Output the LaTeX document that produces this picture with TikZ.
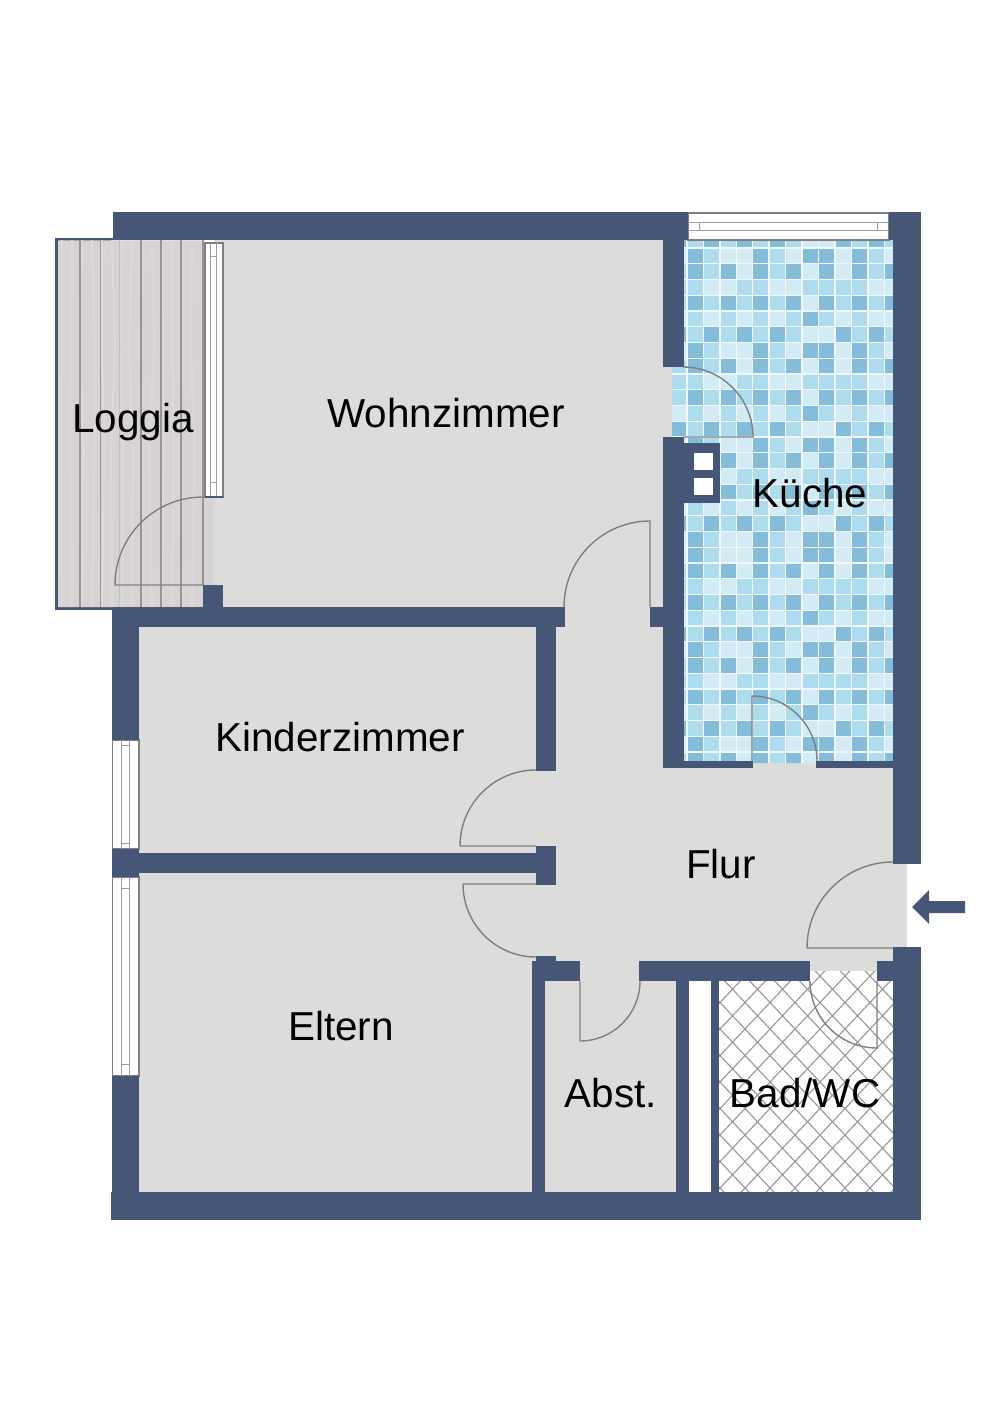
\documentclass[tikz,border=0pt]{standalone}
\usepackage{fontspec}
\setmainfont{Liberation Sans}
\usetikzlibrary{decorations.pathmorphing}
\definecolor{wallblue}{HTML}{465676}
\definecolor{floorgray}{HTML}{DCDCDB}
\definecolor{doorgray}{HTML}{7F7F7F}
\definecolor{woodbase}{HTML}{D8D3D3}
\definecolor{woodgrain}{HTML}{DDD9D9}
\definecolor{woodline}{HTML}{989494}
\definecolor{tiledark}{HTML}{85BCDA}
\definecolor{tilemed}{HTML}{AEDCEF}
\definecolor{tilelight}{HTML}{D2EBF5}
\definecolor{tilegap}{HTML}{F0F8FB}
% one row of the mosaic, column -1 to 12
\def\rowa{c,a,b,c,c,a,b,c,a,a,c,a,b,c}
\def\rowb{b,a,b,a,c,a,b,a,c,a,c,a,b,a}
\def\rowc{b,b,c,c,b,b,c,c,b,b,b,b,c,c}
\def\rowd{b,a,b,a,b,a,b,a,c,a,b,a,b,a}
\def\rowe{c,b,c,b,c,b,c,b,a,b,c,b,c,c}
\def\rowf{a,b,a,b,a,b,a,b,c,c,a,b,a,b}
\begin{document}
\begin{tikzpicture}[x=0.02cm,y=-0.02cm]
\tikzset{
  wall/.style={fill=wallblue},
  floorarea/.style={fill=floorgray},
  door/.style={draw=doorgray,line width=0.8pt},
  roomlabel/.style={anchor=base,inner sep=0pt,font=\fontsize{23}{26}\selectfont},
  frameline/.style={draw=doorgray,line width=0.9pt,fill=white},
  sashline/.style={draw=doorgray!75,line width=0.5pt},
  hatchline/.style={draw=doorgray!80,line width=0.65pt},
  tilea/.style={fill=tiledark},
  tileb/.style={fill=tilemed},
  tilec/.style={fill=tilelight}
}
\useasboundingbox[fill=white] (0,0) rectangle (1000,1415);
% floors
\fill[floorarea] (214,240) rectangle (672,627);
\fill[floorarea] (139,607) rectangle (893,1192);
\fill[floorarea] (893,864) rectangle (907,947);
\fill[white] (689,981) rectangle (711,1192);
% loggia
\fill[wall] (55,238) rectangle (113,610);
\fill[woodbase] (58,240.5) -- (203,240.5) -- (203,497) -- (214,497) -- (214,585) -- (203,585) -- (203,607) -- (58,607) -- cycle;
\pgfmathsetseed{11}
\begin{scope}
\clip (58,240.5) rectangle (203,607);
\foreach \gx in {62,72,...,200}
  \draw[woodgrain,line width=1.2pt,decorate,decoration={random steps,segment length=60pt,amplitude=2pt}] (\gx,240) -- (\gx,607);
\end{scope}
\foreach \lx/\ly in {80/607,100.7/607,141/607,161/607,181/607,203/585}
  \draw[woodline,line width=0.7pt] (\lx,240) -- (\lx,\ly);
\draw[woodline!60,line width=0.6pt] (119.3,240) -- (119.3,607);
% kitchen mosaic
\begin{scope}
\clip (684,240) -- (893,240) -- (893,763) -- (684,763) -- (684,437) -- (672,437) -- (672,367) -- (684,367) -- cycle;
\fill[tilegap] (670,230) rectangle (895,765);
\foreach \tilerow [count=\k from 0] in {\rowf,\rowa,\rowb,\rowc,\rowd,\rowe,\rowf,\rowa,\rowb,\rowc,\rowd,\rowe,\rowf,\rowa,\rowb,\rowc,\rowd,\rowe,\rowf,\rowa,\rowa,\rowb,\rowc,\rowd,\rowe,\rowf,\rowa,\rowb,\rowc,\rowd,\rowe,\rowf,\rowa,\rowb} {
  \edef\tilelist{\tilerow}
  \foreach \tile [count=\i from -1] in \tilelist
    \fill[tile\tile] (687.7+16.44*\i,232.8+15.75*\k) rectangle ++(15,14.6);
}
\end{scope}
% bathroom tiles
\begin{scope}
\clip (719,981) -- (810,981) -- (810,971) -- (877,971) -- (877,981) -- (893,981) -- (893,1192) -- (719,1192) -- cycle;
\fill[white] (719,965) rectangle (893,1192);
\foreach \c in {-8,...,14} {
  \draw[hatchline] (445+25*\c,817) -- ++(600,636);
  \draw[hatchline] (445+25*\c,1453) -- ++(600,-636);
}
\end{scope}
% windows
\draw[frameline] (205,243) rectangle (223,497);
\draw[sashline] (210.7,243) -- (210.7,497) (216.7,243) -- (216.7,497) (210.7,256) -- (216.7,256) (210.7,482) -- (216.7,482);
\draw[frameline] (688,213) rectangle (889,240);
\draw[sashline] (688,222.3) -- (889,222.3) (688,230) -- (889,230) (699,222.3) -- (699,230) (877,222.3) -- (877,230);
\draw[frameline] (112.3,740) rectangle (139,849);
\draw[sashline] (121.7,740) -- (121.7,849) (129.3,740) -- (129.3,849) (121.7,745.7) -- (129.3,745.7) (121.7,843) -- (129.3,843);
\draw[frameline] (112.3,877) rectangle (139,1076);
\draw[sashline] (121.7,877) -- (121.7,1076) (129.3,877) -- (129.3,1076) (121.7,888) -- (129.3,888) (121.7,1064) -- (129.3,1064);
% walls
\foreach \xa/\ya/\xb/\yb in {113/212/688/240,889/212/921/240,893/240/921/864,893/947/921/1220,111/1192/921/1220,
  112/607/139/740,112/849/139/877,112/1076/139/1220,112/607/565/627,203/585/223/607,
  663/240/684/367,663/437/684/768,684/443/720/503,663/761/753/768,816/761/893/768,650/607/663/627,
  536/627/556/771,139/853/536/873,536/846/556/885,536/956/556/961,532/961/580/981,639/961/810/981,877/961/893/981,
  532/981/545/1192,676/981/689/1192,711/981/719/1192}
  \fill[wall] (\xa,\ya) rectangle (\xb,\yb);
\fill[white] (694,453) rectangle (713,470);
\fill[white] (694,478) rectangle (713,495);
\draw[wallblue,line width=0.8pt] (205,497) -- (223,497);
% doors: hinge, start angle, end angle, radius
\foreach \cx/\cy/\sa/\ea/\rad in {203/585/180/270/88,683/437/0/-90/70,650/607/270/180/86,752/761/270/360/65,
  536/846/180/270/76,536/884/180/90/73,580/981/90/0/60,893/948/180/270/86,877/981/90/180/67}
  \draw[door] (\cx,\cy) -- ++(\sa:\rad) arc[start angle=\sa,end angle=\ea,radius=\rad];
% entrance arrow
\fill[wall] (965,901) -- (929,901) -- (929,890) -- (912,907) -- (929,924) -- (929,913) -- (965,913) -- cycle;
% labels
\node[roomlabel] (loggia) at (133,432) {Loggia};
\node[roomlabel] (wohnzimmer) at (446,427) {Wohnzimmer};
\node[roomlabel] (kueche) at (810,507) {Küche};
\node[roomlabel] (kinderzimmer) at (340,751.5) {Kinderzimmer};
\node[roomlabel] (flur) at (721,878) {Flur};
\node[roomlabel] (eltern) at (341,1040.5) {Eltern};
\node[roomlabel] (abst) at (611,1107) {Abst.};
\node[roomlabel] (bad) at (805,1107) {Bad/WC};
\end{tikzpicture}
\end{document}
